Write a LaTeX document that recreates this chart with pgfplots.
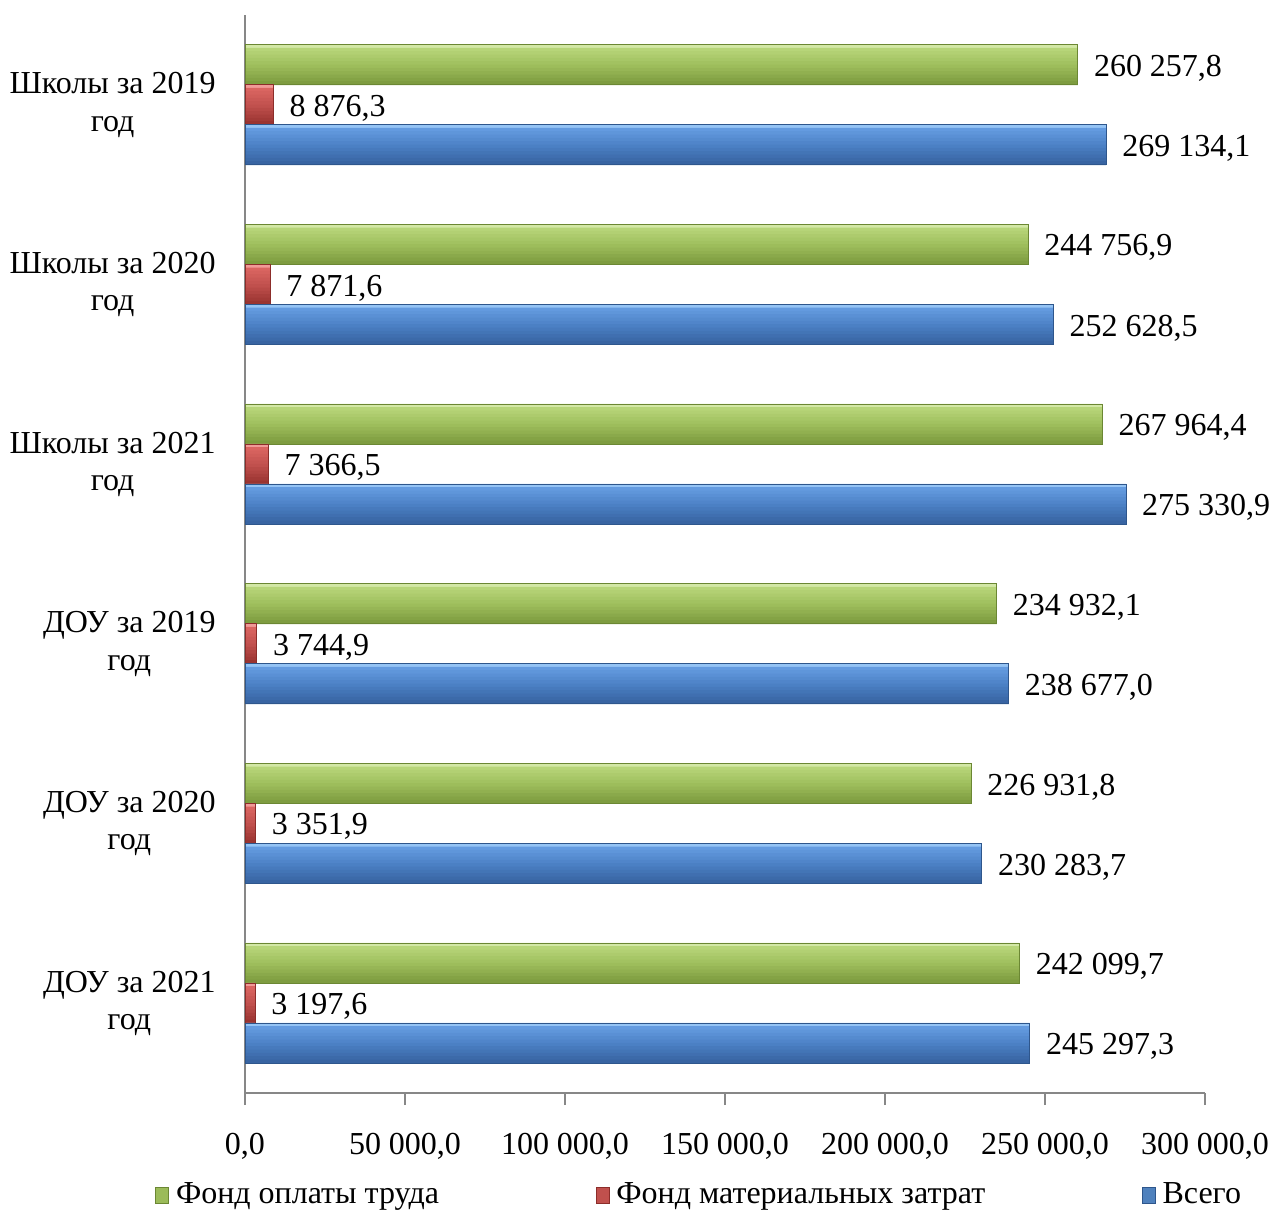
\documentclass[border=0pt]{standalone}
\usepackage{pgfplots}
\usepackage{pgfplotstable}
\pgfplotsset{compat=1.18}
\usepackage{fontspec}
\setmainfont{Liberation Serif}
\definecolor{gmid}{HTML}{9BBB59}
\definecolor{gedge}{HTML}{6B8733}
\definecolor{rmid}{HTML}{C0504D}
\definecolor{redge}{HTML}{8C2D2A}
\definecolor{bmid}{HTML}{4F81BD}
\definecolor{bedge}{HTML}{2E568C}
\definecolor{axgray}{HTML}{878787}
\definecolor{gT}{HTML}{D3E8A6}\definecolor{gL}{HTML}{B7D579}\definecolor{gM}{HTML}{9DBD5B}\definecolor{gB}{HTML}{7E9C40}
\definecolor{rT}{HTML}{F09A97}\definecolor{rL}{HTML}{DA6561}\definecolor{rM}{HTML}{C0504D}\definecolor{rB}{HTML}{9A3431}
\definecolor{bT}{HTML}{95C4F5}\definecolor{bL}{HTML}{649BE0}\definecolor{bM}{HTML}{4B80C4}\definecolor{bB}{HTML}{3864A2}
\pgfplotstableread{
c v
0 260257.8
1 244756.9
2 267964.4
3 234932.1
4 226931.8
5 242099.7
}\greentab
\pgfplotstableread{
c v
0 8876.3
1 7871.6
2 7366.5
3 3744.9
4 3351.9
5 3197.6
}\redtab
\pgfplotstableread{
c v
0 269134.1
1 252628.5
2 275330.9
3 238677.0
4 230283.7
5 245297.3
}\bluetab
\newcommand\strip[3]{\addplot[forget plot, draw=none, fill=#2, bar width=1.2pt, bar shift={#3}] table[x=v, y=c] {#1};}
% #1 table, #2 top, #3 light, #4 mid, #5 bottom, #6 centre shift (pt)
\newcommand\shadeseries[6]{%
  \strip{#1}{#2}{#6pt+5.5pt}%
  \strip{#1}{#3}{#6pt+4.5pt}%
  \strip{#1}{#3!80!#4}{#6pt+3.5pt}%
  \strip{#1}{#3!60!#4}{#6pt+2.5pt}%
  \strip{#1}{#3!40!#4}{#6pt+1.5pt}%
  \strip{#1}{#3!20!#4}{#6pt+0.5pt}%
  \strip{#1}{#4}{#6pt-0.5pt}%
  \strip{#1}{#4!80!#5}{#6pt-1.5pt}%
  \strip{#1}{#4!60!#5}{#6pt-2.5pt}%
  \strip{#1}{#4!40!#5}{#6pt-3.5pt}%
  \strip{#1}{#4!20!#5}{#6pt-4.5pt}%
  \strip{#1}{#5}{#6pt-5.5pt}%
}
\newcommand\lbl{\fontsize{9.6}{11.2}\selectfont}
\begin{document}
\lbl
\begin{tikzpicture}
\begin{axis}[
  name=ax,
  scale only axis,
  width=288pt, height=323.4pt,
  xbar, y dir=reverse,
  xmin=0, xmax=300000,
  ymin=-0.5, ymax=5.5,
  axis x line*=bottom, axis y line*=left,
  axis line style={axgray, line width=0.5pt, -},
  tick align=outside,
  xtick={0,50000,...,300000},
  scaled x ticks=false,
  major tick length=3.6pt,
  minor tick length=3pt,
  tick style={axgray, line width=0.5pt},
  ytick={0,...,5},
  yticklabels={{Школы за 2019\\год},{Школы за 2020\\год},{Школы за 2021\\год},{ДОУ за 2019\\год},{ДОУ за 2020\\год},{ДОУ за 2021\\год}},
  y tick label style={align=center, font=\lbl, xshift=-1.8pt},
  y tick style={draw=none},
  minor ytick={-0.5,0.5,...,5.5},
  minor y tick style={axgray, line width=0.5pt},
  x tick label style={font=\lbl, yshift=-5pt},
  /pgf/number format/.cd, fixed, fixed zerofill, precision=1, use comma, 1000 sep={\ }, assume math mode=true,
  /pgfplots/.cd,
  bar width=12pt,
  point meta=x,
  nodes near coords style={anchor=west, font=\lbl, xshift=1.5pt, yshift=-1pt, text=black},
  legend columns=3,
  legend style={draw=none, fill=none, at={(-0.1045,-0.0946)}, anchor=west,
    font=\lbl, /tikz/every even column/.append style={column sep=45pt}},
  legend cell align=left,
]
\shadeseries{\greentab}{gT}{gL}{gM}{gB}{12}
\shadeseries{\redtab}{rT}{rL}{rM}{rB}{0}
\shadeseries{\bluetab}{bT}{bL}{bM}{bB}{-12}
% outlines with labels and legend
\addplot[bar shift=12pt, draw=gedge, line width=0.3pt, fill=none, nodes near coords,
  legend image code/.code={\draw[gedge, line width=0.3pt, fill=gmid] (0pt,-2.4pt) rectangle (3.9pt,2.4pt);}]
  table[x=v, y=c] {\greentab};
\addplot[bar shift=0pt, draw=redge, line width=0.3pt, fill=none, nodes near coords,
  legend image code/.code={\draw[redge, line width=0.3pt, fill=rmid] (0pt,-2.4pt) rectangle (3.9pt,2.4pt);}]
  table[x=v, y=c] {\redtab};
\addplot[bar shift=-12pt, draw=bedge, line width=0.3pt, fill=none, nodes near coords,
  legend image code/.code={\draw[bedge, line width=0.3pt, fill=bmid] (0pt,-2.4pt) rectangle (3.9pt,2.4pt);}]
  table[x=v, y=c] {\bluetab};
\legend{Фонд оплаты труда,Фонд материальных затрат,Всего}
\end{axis}
\pgfresetboundingbox
\path (ax.south west) ++(-73.5pt,-35.7pt) rectangle ++(381.9pt,363.6pt);
\end{tikzpicture}
\end{document}
